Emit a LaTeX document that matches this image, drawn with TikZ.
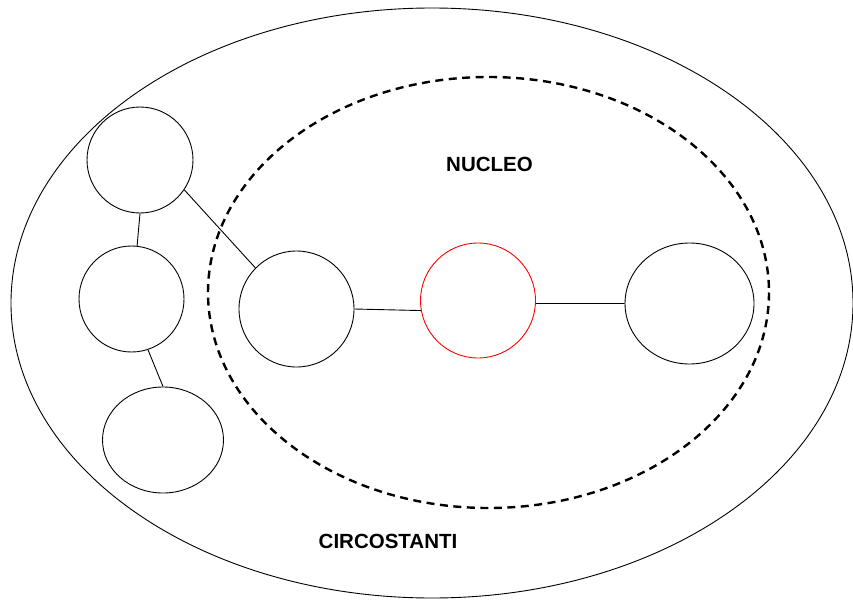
\documentclass[tikz,border=0pt]{standalone}
\usepackage{fontspec}
\setmainfont{Liberation Sans}
\usetikzlibrary{shapes.geometric}
\begin{document}
\begin{tikzpicture}[x=1pt,y=-1pt,
  blob/.style={draw, ellipse, line width=0.9pt, inner sep=0pt},
  link/.style={line width=0.9pt},
  lbl/.style={font=\bfseries\fontsize{20.5}{24}\selectfont}]
\useasboundingbox (0,0) rectangle (853,599);
\draw[line width=0.9pt] (432,303) ellipse [x radius=421, y radius=295];
\draw[line width=2.4pt, dash pattern=on 8pt off 5.5pt] (488.5,292.5) ellipse [x radius=280.5, y radius=215.5];
\node[blob, minimum width=106pt, minimum height=106pt] (c1) at (140,160) {};
\node[blob, minimum width=105pt, minimum height=106pt] (c2) at (131.5,299) {};
\node[blob, minimum width=121pt, minimum height=106pt] (c3) at (163,440) {};
\node[blob, minimum width=115pt, minimum height=116pt] (c4) at (296.5,309) {};
\node[blob, draw=red, minimum width=115pt, minimum height=115pt] (c5) at (478,300.5) {};
\node[blob, minimum width=129pt, minimum height=121pt] (c6) at (689.5,303.5) {};
\draw[link] (c1.-90) -- (c2.84);
\draw[link] (c2.-72) -- (c3.90);
\draw[link] (c1.-34) -- (c4.135);
\draw[link] (c4.0) -- (c5.190);
\draw[link] (c5.-3.5) -- (c6.180);
\node[lbl] (nucleo) at (489.5,164) {NUCLEO};
\node[lbl] (circ) at (388,541) {CIRCOSTANTI};
\end{tikzpicture}
\end{document}
